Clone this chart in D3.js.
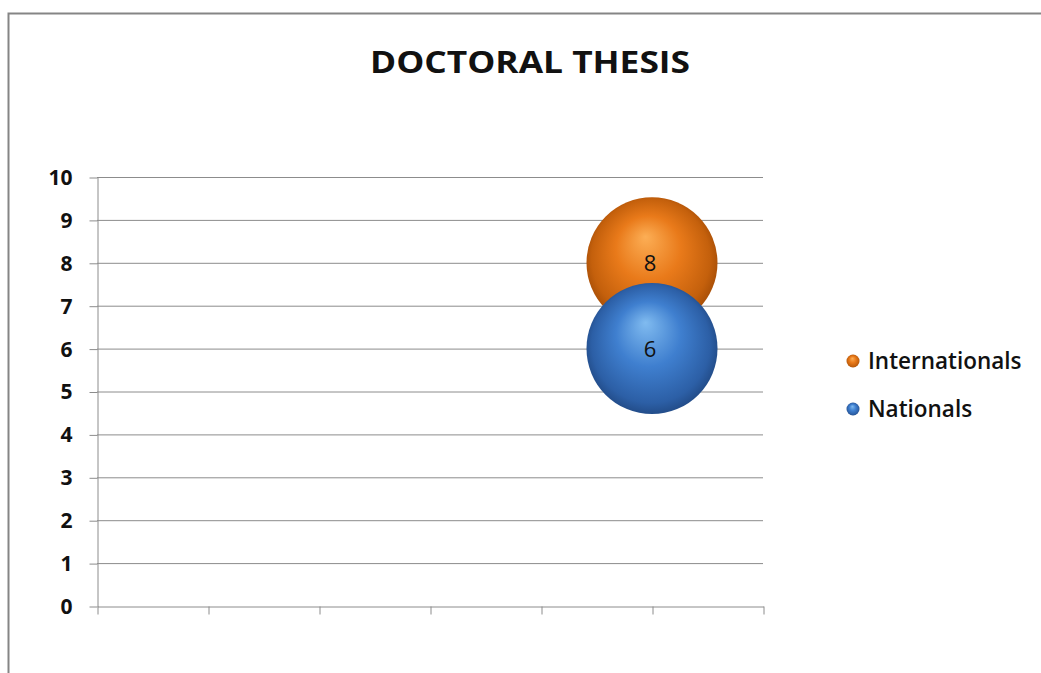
<!DOCTYPE html>
<html>
<head>
  <script src="https://d3js.org/d3.v7.min.js"></script>
  <style>
    body { margin: 0; background: #fff; font-family: "Open Sans", Arial, sans-serif; }
    .grid line { stroke: #8c8c8c; stroke-width: 1px; }
    .axis path, .axis line { stroke: #8c8c8c; }
  </style>
</head>
<body>
  <svg width="1041" height="673"></svg>
  <script>
    const width = 1041, height = 673;

    const series = ["Internationals", "Nationals"];
    const xValues = [5, 5];
    const yValues = [8, 6];
    const sizes = [1, 1];
    const yTicks = [0, 1, 2, 3, 4, 5, 6, 7, 8, 9, 10];
    const xTicks = [0, 1, 2, 3, 4, 5, 6];

    const colors = {
      Internationals: ["#fcae55", "#e97a1a", "#c4600c", "#9a4604"],
      Nationals: ["#80bbf0", "#3f7fcf", "#2c5fa6", "#1d4279"]
    };

    const svg = d3.select("svg");

    // outer chart frame
    svg.append("rect")
      .attr("x", 8.5).attr("y", 13.5)
      .attr("width", 1100).attr("height", 800)
      .attr("fill", "none")
      .attr("stroke", "#858585")
      .attr("stroke-width", 2);

    svg.append("text")
      .attr("x", 530).attr("y", 73)
      .attr("text-anchor", "middle")
      .attr("font-size", 30)
      .attr("font-weight", "bold")
      .attr("fill", "#111")
      .attr("textLength", 320)
      .attr("lengthAdjust", "spacingAndGlyphs")
      .text("DOCTORAL THESIS");

    const x = d3.scaleLinear().domain([0, 6]).range([97, 763]);
    const y = d3.scaleLinear().domain([0, 10]).range([606, 177]);
    const r = d3.scaleSqrt().domain([0, 1]).range([0, 65.5]);

    // gridlines
    svg.append("g").attr("class", "grid")
      .selectAll("line").data(yTicks.slice(1)).join("line")
      .attr("x1", x(0)).attr("x2", x(6))
      .attr("y1", d => y(d) + 0.5).attr("y2", d => y(d) + 0.5);

    const yAxis = svg.append("g").attr("class", "axis")
      .attr("transform", `translate(${x(0) + 0.5},0.5)`)
      .call(d3.axisLeft(y).tickValues(yTicks).tickSize(8).tickSizeOuter(0));
    yAxis.selectAll("text")
      .attr("font-size", 21).attr("font-weight", "bold")
      .attr("fill", "#111").attr("x", -25).attr("dy", "0.33em")
      .attr("font-family", "Open Sans");

    svg.append("g").attr("class", "axis")
      .attr("transform", `translate(0.5,${y(0) + 0.5})`)
      .call(d3.axisBottom(x).tickValues(xTicks).tickSize(8).tickSizeOuter(0).tickFormat(""));

    // sphere gradients
    const defs = svg.append("defs");
    series.forEach((s, i) => {
      const g = defs.append("radialGradient")
        .attr("id", "grad" + i)
        .attr("cx", "50%").attr("cy", "50%").attr("r", "55%")
        .attr("fx", "45%").attr("fy", "30%");
      const c = colors[s];
      g.append("stop").attr("offset", "0%").attr("stop-color", c[0]);
      g.append("stop").attr("offset", "45%").attr("stop-color", c[1]);
      g.append("stop").attr("offset", "82%").attr("stop-color", c[2]);
      g.append("stop").attr("offset", "100%").attr("stop-color", c[3]);
    });

    const data = series.map((s, i) => ({ name: s, x: xValues[i], y: yValues[i], size: sizes[i], i }));

    svg.append("g").selectAll("circle").data(data).join("circle")
      .attr("cx", d => x(d.x))
      .attr("cy", d => y(d.y))
      .attr("r", d => r(d.size))
      .attr("fill", d => `url(#grad${d.i})`);

    svg.append("g").selectAll("text").data(data).join("text")
      .attr("x", d => x(d.x) - 2)
      .attr("y", d => y(d.y) + 8)
      .attr("text-anchor", "middle")
      .attr("font-size", 22)
      .attr("fill", "#111")
      .text(d => d.y);

    // legend
    const legend = svg.append("g").selectAll("g").data(data).join("g")
      .attr("transform", (d, i) => `translate(853,${361 + i * 48})`);
    legend.append("circle").attr("r", 6.5)
      .attr("fill", d => `url(#grad${d.i})`);
    legend.append("text")
      .attr("x", 15).attr("y", 8)
      .attr("font-size", 22.5)
      .attr("font-weight", 600)
      .attr("fill", "#111")
      .text(d => d.name);
  </script>
</body>
</html>
